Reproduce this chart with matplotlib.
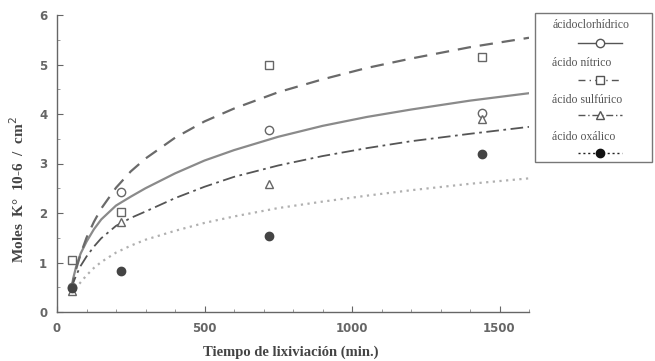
import matplotlib
matplotlib.use("Agg")
import matplotlib.pyplot as plt
from matplotlib.lines import Line2D
from matplotlib.patches import Rectangle
from matplotlib.ticker import MultipleLocator

# ---- data ----
t_meas = [50, 217, 720, 1440]
clorhidrico_pts = [0.50, 2.43, 3.68, 4.02]
nitrico_pts = [1.05, 2.02, 5.00, 5.15]
sulfurico_pts = [0.42, 1.82, 2.59, 3.89]
oxalico_pts = [0.48, 0.83, 1.54, 3.19]

t_curve = [48, 55, 65, 80, 100, 125, 150, 200, 250, 300, 400, 500, 600,
           750, 900, 1050, 1200, 1400, 1600]
clorhidrico_fit = [0.45, 0.68, 0.92, 1.18, 1.42, 1.67, 1.87, 2.15, 2.33, 2.50,
                   2.80, 3.06, 3.27, 3.54, 3.76, 3.94, 4.09, 4.27, 4.42]
nitrico_fit = [0.43, 0.63, 0.87, 1.17, 1.50, 1.82, 2.09, 2.51, 2.84, 3.10,
               3.52, 3.85, 4.11, 4.44, 4.70, 4.93, 5.12, 5.35, 5.54]
sulfurico_fit = [0.47, 0.59, 0.74, 0.93, 1.12, 1.32, 1.49, 1.74, 1.90, 2.03,
                 2.30, 2.53, 2.73, 2.96, 3.15, 3.31, 3.45, 3.60, 3.74]
oxalico_fit = [0.36, 0.41, 0.49, 0.60, 0.74, 0.89, 1.01, 1.20, 1.34, 1.46,
               1.64, 1.80, 1.93, 2.10, 2.23, 2.35, 2.46, 2.59, 2.70]

labels = ["ácidoclorhídrico", "ácido nítrico", "ácido sulfúrico", "ácido oxálico"]
x_ticks = [0, 500, 1000, 1500]
y_ticks = [0, 1, 2, 3, 4, 5, 6]

W, H = 655, 361
fig = plt.figure(figsize=(W / 100, H / 100), dpi=100)
ax = fig.add_axes([57 / W, 1 - 312 / H, (529 - 57) / W, (312 - 15) / H])

# curves
ax.plot(t_curve, clorhidrico_fit, color="#8a8a8a", lw=1.6, ls="-")
ax.plot(t_curve, nitrico_fit, color="#6a6a6a", lw=1.6, ls=(0, (6, 4)))
ax.plot(t_curve, sulfurico_fit, color="#555555", lw=1.3, ls=(0, (7, 2.5, 1.5, 2.5)))
ax.plot(t_curve, oxalico_fit, color="#b0b0b0", lw=1.6, ls=(0, (1, 2)))

# markers
mk = dict(ls="none", ms=6, mew=1.0)
ax.plot(t_meas, clorhidrico_pts, marker="o", mfc="white", mec="#666666", **mk)
ax.plot(t_meas, nitrico_pts, marker="s", mfc="white", mec="#666666", **mk)
ax.plot(t_meas, sulfurico_pts, marker="^", mfc="white", mec="#666666", **mk)
ax.plot(t_meas, oxalico_pts, marker="o", mfc="#444444", mec="#444444", **mk)

ax.set_xlim(0, 1600)
ax.set_ylim(0, 6)
ax.set_xticks(x_ticks)
ax.set_yticks(y_ticks)
ax.xaxis.set_minor_locator(MultipleLocator(100))
ax.yaxis.set_minor_locator(MultipleLocator(0.5))
for s in ["top", "right"]:
    ax.spines[s].set_visible(False)
for s in ["left", "bottom"]:
    ax.spines[s].set_color("#666666")
    ax.spines[s].set_linewidth(1.0)
ax.tick_params(which="major", direction="in", length=4, width=0.8, color="#666666",
               labelsize=8.5, labelcolor="#666666", pad=7)
ax.tick_params(which="minor", direction="in", length=2, width=0.6, color="#888888")
for lab in ax.get_xticklabels() + ax.get_yticklabels():
    lab.set_fontweight("bold")

fig.text(291 / W, 1 - 352 / H, "Tiempo de lixiviación (min.)", ha="center", va="center",
         family="Liberation Serif", fontweight="bold", fontsize=10.5, color="#444444")
fig.text(18 / W, 1 - 190 / H, "Moles  K°  10-6  /  cm$^{2}$", ha="center", va="center",
         rotation=90, family="Liberation Serif", fontweight="bold", fontsize=11,
         color="#444444")

# legend box drawn manually (text above, handle below)
fig.add_artist(Rectangle((535 / W, 1 - 162 / H), (652 - 535) / W, (162 - 13) / H,
                         transform=fig.transFigure, fill=False, ec="#777777", lw=1.0))
styles = [
    dict(ls="-", marker="o", mfc="white", mec="#555555", color="#555555"),
    dict(ls=(0, (5, 3, 1, 3)), marker="s", mfc="white", mec="#555555", color="#555555"),
    dict(ls=(0, (5, 2, 1, 2)), marker="^", mfc="white", mec="#555555", color="#555555"),
    dict(ls=(0, (1.5, 2)), marker="o", mfc="#111111", mec="#111111", color="#222222"),
]
text_y = [25, 63, 100, 137]
handle_y = [43, 80, 115, 153]
text_x = [553, 552, 552, 552]
for lab, st, ty, hy, tx in zip(labels, styles, text_y, handle_y, text_x):
    fig.text(tx / W, 1 - ty / H, lab, ha="left", va="center", family="Liberation Serif",
             fontsize=8.5, color="#555555")
    y = 1 - hy / H
    fig.add_artist(Line2D([578 / W, 622 / W], [y, y], transform=fig.transFigure,
                          lw=1.0, color=st["color"], ls=st["ls"]))
    fig.add_artist(Line2D([600 / W], [y], transform=fig.transFigure, ls="none",
                          marker=st["marker"], ms=6, mfc=st["mfc"], mec=st["mec"], mew=1.0))

fig.savefig("out.png", dpi=100, facecolor="white")
